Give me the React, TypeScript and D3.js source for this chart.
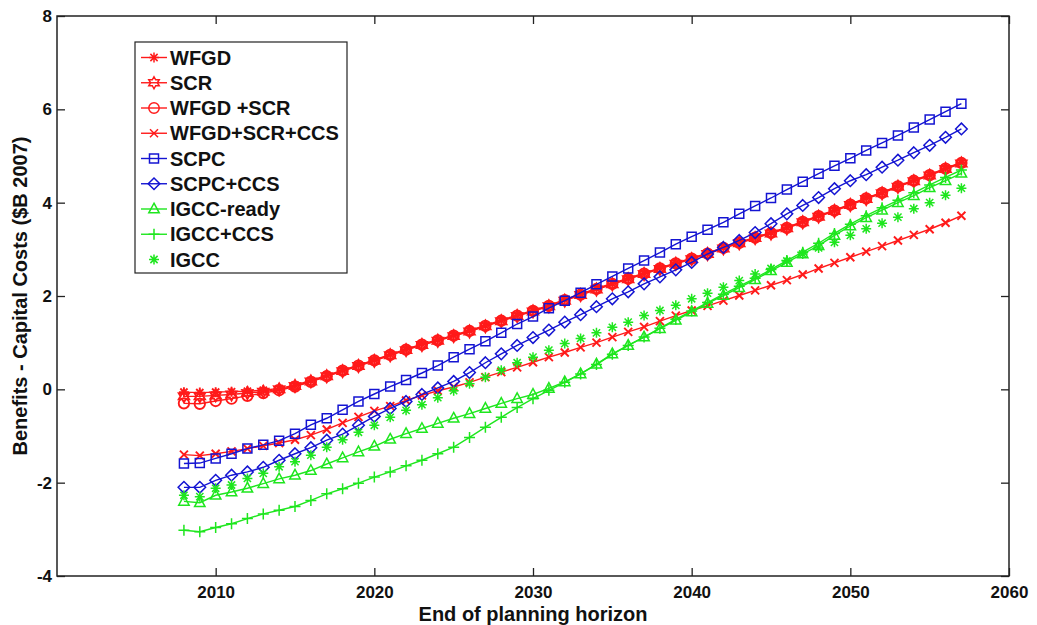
import * as React from "react";
import * as d3 from "d3";

// end of planning horizon (years)
const years = [
  2008, 2009, 2010, 2011, 2012, 2013, 2014, 2015, 2016, 2017,
  2018, 2019, 2020, 2021, 2022, 2023, 2024, 2025, 2026, 2027,
  2028, 2029, 2030, 2031, 2032, 2033, 2034, 2035, 2036, 2037,
  2038, 2039, 2040, 2041, 2042, 2043, 2044, 2045, 2046, 2047,
  2048, 2049, 2050, 2051, 2052, 2053, 2054, 2055, 2056, 2057,
];

// benefits - capital costs, $B 2007
const wfgd = [
  -0.06, -0.07, -0.06, -0.05, -0.04, -0.02, 0.02, 0.09, 0.19, 0.3,
  0.41, 0.52, 0.63, 0.75, 0.86, 0.97, 1.06, 1.16, 1.26, 1.37,
  1.48, 1.59, 1.69, 1.8, 1.92, 2.04, 2.16, 2.27, 2.38, 2.49,
  2.6, 2.71, 2.81, 2.92, 3.04, 3.15, 3.26, 3.36, 3.47, 3.6,
  3.72, 3.84, 3.97, 4.1, 4.22, 4.36, 4.48, 4.6, 4.74, 4.86,
];
const scr = [
  -0.15, -0.15, -0.13, -0.11, -0.08, -0.05, 0.0, 0.07, 0.17, 0.28,
  0.39, 0.5, 0.61, 0.73, 0.84, 0.95, 1.04, 1.14, 1.24, 1.35,
  1.46, 1.57, 1.67, 1.78, 1.9, 2.02, 2.14, 2.25, 2.36, 2.47,
  2.58, 2.69, 2.79, 2.9, 3.02, 3.13, 3.24, 3.34, 3.45, 3.58,
  3.7, 3.82, 3.95, 4.08, 4.2, 4.34, 4.46, 4.58, 4.72, 4.84,
];
const wfgdScr = [
  -0.3, -0.31, -0.25, -0.2, -0.14, -0.08, -0.02, 0.06, 0.16, 0.28,
  0.4, 0.51, 0.62, 0.74, 0.85, 0.96, 1.05, 1.15, 1.25, 1.36,
  1.47, 1.58, 1.68, 1.79, 1.91, 2.03, 2.15, 2.26, 2.37, 2.48,
  2.59, 2.7, 2.8, 2.91, 3.03, 3.14, 3.25, 3.35, 3.46, 3.59,
  3.71, 3.83, 3.96, 4.09, 4.21, 4.35, 4.47, 4.59, 4.73, 4.85,
];
const wfgdScrCcs = [
  -1.4, -1.42, -1.38, -1.33, -1.27, -1.21, -1.15, -1.08, -0.98, -0.86,
  -0.72, -0.59, -0.46, -0.36, -0.24, -0.13, -0.03, 0.05, 0.15, 0.26,
  0.37, 0.47, 0.58, 0.69, 0.79, 0.9, 1.0, 1.12, 1.23, 1.34,
  1.46, 1.58, 1.69, 1.79, 1.9, 2.01, 2.12, 2.23, 2.34, 2.46,
  2.59, 2.71, 2.83, 2.95, 3.07, 3.19, 3.31, 3.43, 3.57, 3.72,
];
const scpc = [
  -1.59, -1.58, -1.48, -1.38, -1.27, -1.19, -1.1, -0.95, -0.76, -0.62,
  -0.44, -0.26, -0.1, 0.06, 0.2, 0.35, 0.51, 0.69, 0.86, 1.03,
  1.21, 1.4, 1.56, 1.74, 1.9, 2.07, 2.25, 2.42, 2.59, 2.76,
  2.93, 3.11, 3.27, 3.42, 3.58, 3.76, 3.93, 4.1, 4.28, 4.45,
  4.62, 4.79, 4.95, 5.12, 5.28, 5.44, 5.61, 5.78, 5.95, 6.12,
];
const scpcCcs = [
  -2.1, -2.1, -1.95, -1.84, -1.77, -1.67, -1.52, -1.38, -1.25, -1.09,
  -0.96, -0.77, -0.58, -0.41, -0.26, -0.11, 0.03, 0.17, 0.36, 0.57,
  0.76, 0.94, 1.11, 1.27, 1.44, 1.6, 1.77, 1.94, 2.09, 2.26,
  2.41, 2.56, 2.72, 2.9, 3.04, 3.19, 3.36, 3.55, 3.76, 3.94,
  4.11, 4.3, 4.47, 4.6, 4.76, 4.91, 5.07, 5.23, 5.4, 5.58,
];
const igccReady = [
  -2.4, -2.43, -2.27, -2.2, -2.12, -2.02, -1.92, -1.84, -1.74, -1.6,
  -1.47, -1.34, -1.22, -1.07, -0.95, -0.84, -0.73, -0.62, -0.52, -0.41,
  -0.3, -0.2, -0.11, 0.02, 0.16, 0.33, 0.54, 0.76, 0.94, 1.12,
  1.3, 1.48, 1.66, 1.84, 2.01, 2.18, 2.35, 2.54, 2.72, 2.9,
  3.08, 3.3, 3.5, 3.68, 3.84, 4.0, 4.15, 4.32, 4.47, 4.63,
];
const igccCcs = [
  -3.02, -3.05, -2.96, -2.88, -2.77, -2.67, -2.59, -2.51, -2.38, -2.24,
  -2.13, -2.01, -1.88, -1.77, -1.64, -1.52, -1.38, -1.24, -1.03, -0.81,
  -0.6, -0.39, -0.2, -0.02, 0.15, 0.33, 0.53, 0.75, 0.94, 1.12,
  1.31, 1.5, 1.68, 1.86, 2.04, 2.21, 2.38, 2.57, 2.76, 2.94,
  3.13, 3.34, 3.54, 3.72, 3.89, 4.05, 4.21, 4.38, 4.54, 4.7,
];
const igcc = [
  -2.27, -2.3, -2.12, -2.05, -1.91, -1.8, -1.66, -1.55, -1.41, -1.24,
  -1.08, -0.92, -0.77, -0.6, -0.45, -0.33, -0.18, -0.03, 0.12, 0.26,
  0.41, 0.57, 0.69, 0.84, 0.98, 1.09, 1.21, 1.33, 1.44, 1.58,
  1.69, 1.8, 1.94, 2.06, 2.19, 2.33, 2.47, 2.59, 2.75, 2.9,
  3.03, 3.15, 3.3, 3.44, 3.56, 3.69, 3.87, 4.0, 4.16, 4.31,
];

const xTicks = [2010, 2020, 2030, 2040, 2050, 2060];
const yTicks = [-4, -2, 0, 2, 4, 6, 8];

const RED = "#ff1a1a";
const BLUE = "#1414d2";
const GREEN = "#1ee61e";
const FONT = "'Liberation Sans', Arial, sans-serif";

const series = [
  { name: "WFGD", values: wfgd, color: RED, marker: "asterisk", line: true },
  { name: "SCR", values: scr, color: RED, marker: "hexagram", line: true },
  { name: "WFGD +SCR", values: wfgdScr, color: RED, marker: "circle", line: true },
  { name: "WFGD+SCR+CCS", values: wfgdScrCcs, color: RED, marker: "x", line: true },
  { name: "SCPC", values: scpc, color: BLUE, marker: "square", line: true },
  { name: "SCPC+CCS", values: scpcCcs, color: BLUE, marker: "diamond", line: true },
  { name: "IGCC-ready", values: igccReady, color: GREEN, marker: "triangle", line: true },
  { name: "IGCC+CCS", values: igccCcs, color: GREEN, marker: "plus", line: true },
  { name: "IGCC", values: igcc, color: GREEN, marker: "asterisk", line: false },
];

function markerPath(kind) {
  switch (kind) {
    case "square":
      return "M-4.5,-4.5H4.5V4.5H-4.5Z";
    case "diamond":
      return "M0,-5.8L5.8,0L0,5.8L-5.8,0Z";
    case "triangle":
      return "M0,-5.8L5.2,3.8L-5.2,3.8Z";
    case "circle":
      return "M5.2,0A5.2,5.2 0 1 1 -5.2,0A5.2,5.2 0 1 1 5.2,0Z";
    case "x":
      return "M-4,-4L4,4M-4,4L4,-4";
    case "plus":
      return "M-5.5,0H5.5M0,-5.5V5.5";
    case "asterisk":
      return "M-5,0H5M0,-5V5M-3.6,-3.6L3.6,3.6M-3.6,3.6L3.6,-3.6";
    case "hexagram": {
      const pts = d3.range(12).map((i) => {
        const a = (i * Math.PI) / 6 - Math.PI / 2;
        const r = i % 2 === 0 ? 6 : 3.4;
        return [r * Math.cos(a), r * Math.sin(a)];
      });
      return "M" + pts.map((p) => p.join(",")).join("L") + "Z";
    }
    default:
      return "";
  }
}

function drawChart(svgRef) {
  const margin = { top: 16, right: 28, bottom: 49, left: 57 };
  const W = 1037;
  const H = 625;
  const width = W - margin.left - margin.right;
  const height = H - margin.top - margin.bottom;

  const x = d3.scaleLinear().domain([2000, 2060]).range([0, width]);
  const y = d3.scaleLinear().domain([-4, 8]).range([height, 0]);

  const svgContainer = d3.select(svgRef.current).attr("width", W).attr("height", H);
  svgContainer.selectAll("*").remove();

  svgContainer.append("rect").attr("width", W).attr("height", H).attr("fill", "#fff");

  const svg = svgContainer
    .append("g")
    .attr("transform", `translate(${margin.left},${margin.top})`);

  // axes with inward ticks on all four sides
  const plain = (d) => String(d);
  const bottom = svg
    .append("g")
    .attr("transform", `translate(0,${height})`)
    .call(
      d3.axisBottom(x).tickValues(xTicks).tickFormat(plain)
        .tickSize(-8).tickPadding(10).tickSizeOuter(0)
    );
  const left = svg
    .append("g")
    .call(
      d3.axisLeft(y).tickValues(yTicks).tickFormat(plain)
        .tickSize(-8).tickPadding(5).tickSizeOuter(0)
    );
  const top = svg
    .append("g")
    .call(d3.axisTop(x).tickValues(xTicks).tickSize(-8).tickFormat(() => "").tickSizeOuter(0));
  const right = svg
    .append("g")
    .attr("transform", `translate(${width},0)`)
    .call(d3.axisRight(y).tickValues(yTicks).tickSize(-8).tickFormat(() => "").tickSizeOuter(0));

  [bottom, left, top, right].forEach((g) => {
    g.select(".domain").remove();
    g.selectAll("line").attr("stroke", "#222").attr("stroke-width", 1.3);
    g.selectAll("text")
      .attr("font-family", FONT)
      .attr("font-weight", "bold")
      .attr("font-size", 17)
      .attr("fill", "#111");
  });

  const lineGen = d3
    .line()
    .x((d) => x(d[0]))
    .y((d) => y(d[1]));

  series.forEach((s) => {
    const pts = s.values.map((v, i) => [years[i], v]);
    const g = svg.append("g");
    if (s.line) {
      g.append("path")
        .attr("d", lineGen(pts))
        .attr("fill", "none")
        .attr("stroke", s.color)
        .attr("stroke-width", 1.4);
    }
    g.selectAll(".m")
      .data(pts)
      .enter()
      .append("path")
      .classed("m", true)
      .attr("d", markerPath(s.marker))
      .attr("transform", (d) => `translate(${x(d[0])},${y(d[1])})`)
      .attr("fill", "none")
      .attr("stroke", s.color)
      .attr("stroke-width", s.color === RED ? 1.9 : 1.5);
  });

  // box
  svg
    .append("rect")
    .attr("width", width)
    .attr("height", height)
    .attr("fill", "none")
    .attr("stroke", "#222")
    .attr("stroke-width", 1.5);

  // legend
  const lx = 135 - margin.left;
  const ly = 42 - margin.top;
  const rowH = 25.25;
  const legend = svg.append("g").attr("transform", `translate(${lx},${ly})`);
  legend
    .append("rect")
    .attr("width", 212)
    .attr("height", 231)
    .attr("fill", "#fff")
    .attr("stroke", "#222")
    .attr("stroke-width", 1.2);
  series.forEach((s, i) => {
    const cy = 15.5 + i * rowH;
    const row = legend.append("g").attr("transform", `translate(0,${cy})`);
    if (s.line) {
      row.append("line")
        .attr("x1", 6).attr("x2", 32)
        .attr("stroke", s.color).attr("stroke-width", 1.4);
    }
    row.append("path")
      .attr("d", markerPath(s.marker))
      .attr("transform", "translate(19,0)")
      .attr("fill", "none")
      .attr("stroke", s.color)
      .attr("stroke-width", 1.5);
    row.append("text")
      .attr("x", 35)
      .attr("y", 7)
      .attr("font-family", FONT)
      .attr("font-weight", "bold")
      .attr("font-size", 20)
      .attr("fill", "#111")
      .text(s.name);
  });

  // axis titles
  svgContainer
    .append("text")
    .attr("x", margin.left + width / 2)
    .attr("y", 621)
    .attr("text-anchor", "middle")
    .attr("font-family", FONT)
    .attr("font-weight", "bold")
    .attr("font-size", 20)
    .attr("fill", "#111")
    .text("End of planning horizon");

  svgContainer
    .append("text")
    .attr("transform", `translate(27,${margin.top + height / 2}) rotate(-90)`)
    .attr("text-anchor", "middle")
    .attr("font-family", FONT)
    .attr("font-weight", "bold")
    .attr("font-size", 20)
    .attr("fill", "#111")
    .text("Benefits - Capital Costs ($B 2007)");
}

const App = () => {
  const svgRef = React.useRef(null);

  React.useEffect(() => {
    drawChart(svgRef);
  }, [svgRef]);

  return (
    <div style={{ position: "absolute", left: 0, top: 0 }}>
      <svg ref={svgRef} style={{ display: "block" }} />
    </div>
  );
};

export default App;
